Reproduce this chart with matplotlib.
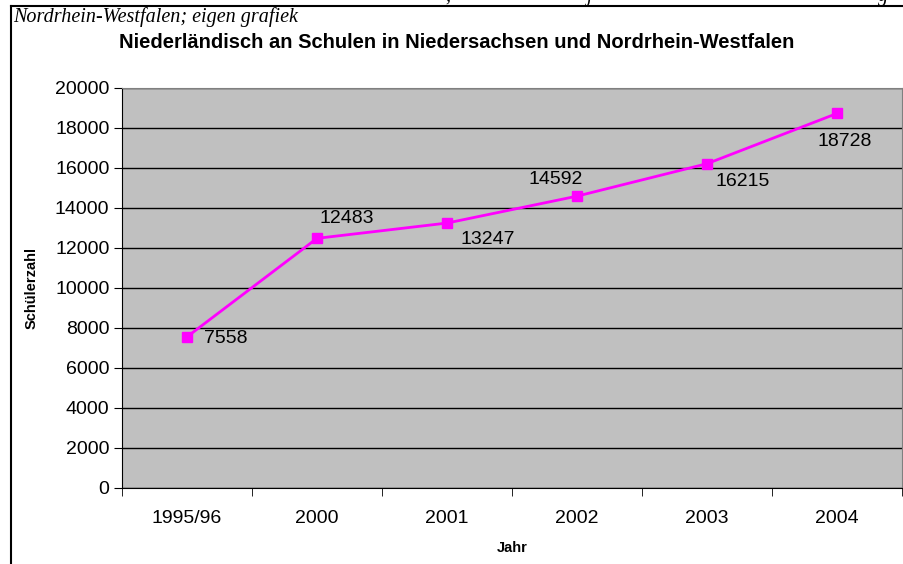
import matplotlib
matplotlib.use("Agg")
import matplotlib.pyplot as plt
from matplotlib.lines import Line2D

# data
years = ["1995/96", "2000", "2001", "2002", "2003", "2004"]
pupils = [7558, 12483, 13247, 14592, 16215, 18728]
# label offsets in points (dx, dy) - manually placed in the original
label_offsets = [(12, -1), (2, 14), (10, -12), (-35, 12), (6, -13), (-14, -20)]

plt.rcParams['font.family'] = ['Liberation Sans', 'DejaVu Sans']

fig = plt.figure(figsize=(9.04, 5.64), dpi=100)
ax = fig.add_axes([122 / 904, 76 / 564, 780 / 904, 400 / 564])

x = range(len(years))
ax.set_facecolor('#C0C0C0')
ax.plot(x, pupils, color='#FF00FF', lw=2, marker='s', ms=7, zorder=3)

for xi, v, (dx, dy) in zip(x, pupils, label_offsets):
    ax.annotate(str(v), (xi, v), xytext=(dx, dy), textcoords='offset points',
                fontsize=14, ha='left', va='center', color='black')

ax.set_xlim(-0.5, len(years) - 0.5)
ax.set_ylim(0, 20000)
ax.set_yticks(range(0, 20001, 2000))
ax.yaxis.grid(True, color='black', lw=1)
ax.set_axisbelow(True)

ax.set_xticks(x)
ax.set_xticklabels(years, fontsize=14)
ax.set_xticks([i - 0.5 for i in range(len(years) + 1)], minor=True)
ax.tick_params(axis='x', which='major', length=0, pad=16)
ax.tick_params(axis='x', which='minor', length=6, direction='out', color='black')
ax.tick_params(axis='y', labelsize=14, length=6, color='black', pad=3)

for s in ['top', 'right']:
    ax.spines[s].set_color('#808080')
for s in ['left', 'bottom']:
    ax.spines[s].set_color('black')

ax.set_ylabel('Schülerzahl', fontsize=10.5, fontweight='bold', labelpad=12)
ax.set_xlabel('Jahr', fontsize=10.5, fontweight='bold', labelpad=10)

fig.text(457 / 904, 1 - 43 / 564, 'Niederländisch an Schulen in Niedersachsen und Nordrhein-Westfalen',
         fontsize=14.5, fontweight='bold', ha='center', va='center')
fig.text(13 / 904, 1 - 22 / 564, 'Nordrhein-Westfalen; eigen grafiek',
         family='Liberation Serif', style='italic', fontsize=14.5, ha='left', va='baseline')

# descenders of the cut-off caption line above
for px, ch in [(445, ','), (586, 'j'), (878, 'g')]:
    fig.text(px / 904, 1 - 1 / 564, ch, family='Liberation Serif', style='italic',
             fontsize=14.5, ha='left', va='baseline')

# frame around the embedded chart
fig.add_artist(Line2D([11 / 904, 1], [1 - 6 / 564, 1 - 6 / 564], color='black', lw=1.5))
fig.add_artist(Line2D([11 / 904, 11 / 904], [0, 1 - 6 / 564], color='black', lw=1.5))

fig.savefig('out.png', dpi=100)
